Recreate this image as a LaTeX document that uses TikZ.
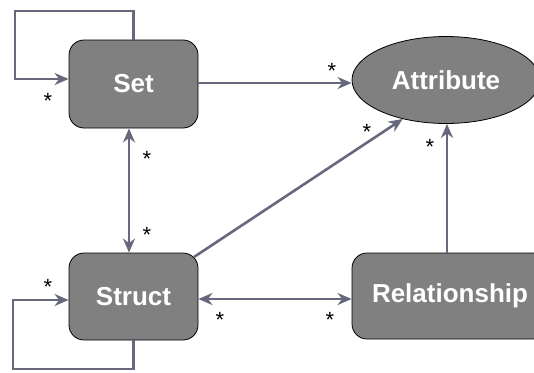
\documentclass[tikz,border=0pt]{standalone}
\usepackage{fontspec}
\setmainfont{Liberation Sans}
\usetikzlibrary{arrows.meta,shapes.geometric}
\definecolor{linkgray}{RGB}{104,104,124}
\definecolor{boxgray}{RGB}{128,128,128}
\tikzset{
  entity/.style={draw=black, line width=0.8pt, fill=boxgray, rounded corners=15pt,
    text=white, font=\fontsize{26}{30}\selectfont\bfseries, inner sep=0pt},
  attr/.style={ellipse, draw=black, line width=0.8pt, fill=boxgray,
    text=white, font=\fontsize{26}{30}\selectfont\bfseries, inner sep=0pt},
  link/.style={draw=linkgray, line width=2.6pt},
  tip/.style={-{Stealth[length=14pt,width=12pt,inset=4.5pt]}},
  bothtips/.style={{Stealth[length=14pt,width=12pt,inset=4.5pt]}-{Stealth[length=14pt,width=12pt,inset=4.5pt]}},
  mult/.style={font=\fontsize{22}{22}\selectfont, inner sep=0pt, text=black}
}
\begin{document}
\begin{tikzpicture}[x=1pt,y=-1pt]
\useasboundingbox (0,0) rectangle (534,372);

% entities
\node[entity, minimum width=129pt, minimum height=88pt] (set) at (133.5,84) {Set};
\node[entity, minimum width=129pt, minimum height=87pt] (struct) at (133.5,296.5) {Struct};
\node[entity, minimum width=196pt, minimum height=86pt] (rel) at (450,296) {Relationship};
\node[attr, minimum width=188pt, minimum height=87pt] (attr) at (446,80) {Attribute};

% connectors
\draw[link, tip] (set.north) -- (set.north |- 0,11) -- (15,11) -- (15,79) -- (set.west |- 0,79);
\draw[link, tip] (struct.south) -- (struct.south |- 0,369) -- (13,369) -- (13,300) -- (struct.west |- 0,300);
\draw[link, bothtips] (set.south -| 129,0) -- (struct.north -| 129,0);
\draw[link, tip] (set.east |- 0,83) -- (attr.west |- 0,83);
\draw[link, tip] (194,257) -- (attr.222);
\draw[link, tip] (rel.north -| 447,0) -- (attr.south -| 447,0);
\draw[link, bothtips] (struct.east |- 0,299) -- (rel.west |- 0,299);

% multiplicities
\node[mult] (m1) at (48,101) {*};
\node[mult] (m2) at (332,71) {*};
\node[mult] (m3) at (147,159) {*};
\node[mult] (m4) at (147,235) {*};
\node[mult] (m5) at (367,132) {*};
\node[mult] (m6) at (430,147) {*};
\node[mult] (m7) at (48,287) {*};
\node[mult] (m8) at (220,320) {*};
\node[mult] (m9) at (330,320) {*};
\end{tikzpicture}
\end{document}
